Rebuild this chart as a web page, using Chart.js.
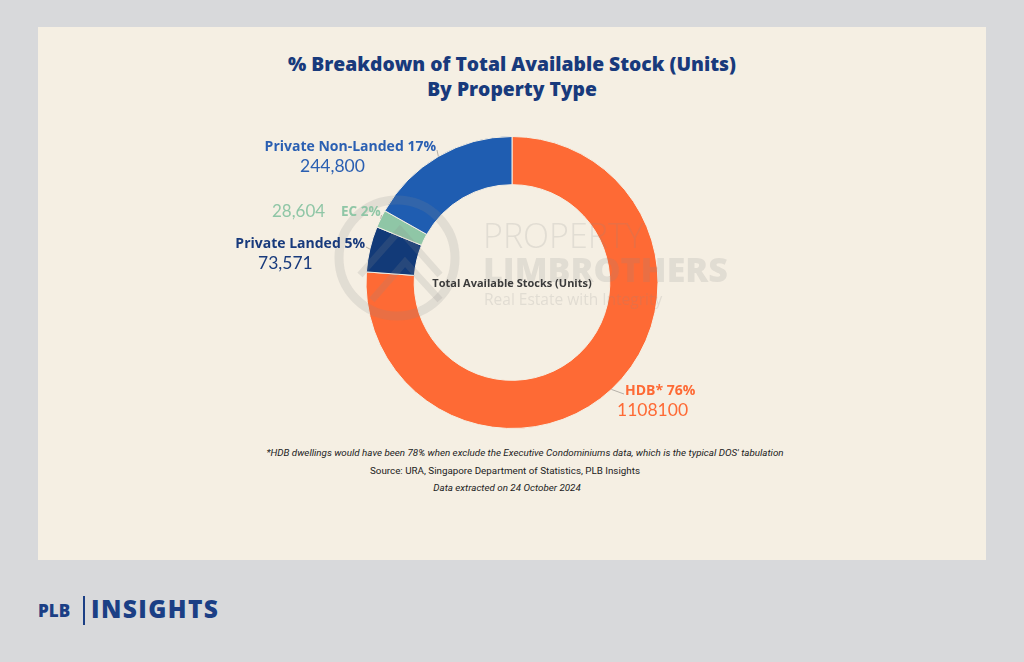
<!DOCTYPE html>
<html>
<head>
<meta charset="utf-8">
<script src="https://cdn.jsdelivr.net/npm/chart.js@4.4.1/dist/chart.umd.min.js"></script>
<style>
  html, body { margin: 0; padding: 0; }
  body { width: 1024px; height: 662px; background: #d8d9db; position: relative; overflow: hidden; font-family: "Open Sans", Lato, sans-serif; }
  #panel { position: absolute; left: 38px; top: 27px; width: 948px; height: 533px; background: #f5efe3; }
  #wrap { position: absolute; left: 0; top: 0; width: 1024px; height: 662px; }
  .title { position: absolute; left: 0; width: 1024px; text-align: center; color: #183a7c; font-weight: 800; font-size: 19.3px; }
  .note { position: absolute; left: 0; width: 1024px; text-align: center; font-family: Roboto, sans-serif; font-size: 9.8px; color: #222; }
  #logo { position: absolute; left: 38px; top: 596px; color: #1b3f85; font-weight: 800; height: 30px; }
  #logo .plb { position: absolute; left: 0; top: 3px; font-size: 17px; }
  #logo .bar { position: absolute; left: 45px; top: 0; width: 2px; height: 29px; background: #1b3f85; }
  #logo .ins { position: absolute; left: 53px; top: -4px; font-size: 24.5px; letter-spacing: 1.4px; }
</style>
</head>
<body>
<div id="panel"></div>
<div class="title" style="top:50px">% Breakdown of Total Available Stock (Units)</div>
<div class="title" style="top:75px">By Property Type</div>
<div class="note" style="top:447px;font-style:italic;left:13px">*HDB dwellings would have been 78% when exclude the Executive Condominiums data, which is the typical DOS' tabulation</div>
<div class="note" style="top:465px;left:-7px">Source: URA, Singapore Department of Statistics, PLB Insights</div>
<div class="note" style="top:482px;font-style:italic;left:-5px">Data extracted on 24 October 2024</div>
<div id="logo"><span class="plb">PLB</span><span class="bar"></span><span class="ins">INSIGHTS</span></div>
<div id="wrap"><canvas id="chart" width="1024" height="662"></canvas></div>
<script>
const categories = ['HDB*', 'Private Landed', 'EC', 'Private Non-Landed'];
const units = [1108100, 73571, 28604, 244800];
const percentLabels = ['76%', '5%', '2%', '17%'];
const valueLabels = ['1108100', '73,571', '28,604', '244,800'];
const colors = ['#fe6a35', '#123a78', '#8fc6a6', '#1f5db1'];
const labelColors = ['#fe6a35', '#183a7c', '#8fc6a6', '#2a5fb2'];

// label text anchors (x, y of the bold line; number line sits below)
const labelSpots = [
  { x: 625, y: 391, align: 'left', numX: 617 },
  { x: 365, y: 244, align: 'right', numX: 258 },
  { x: 341, y: 212, align: 'ec', numX: 272 },
  { x: 436, y: 147, align: 'right', numX: 300 }
];

const backdrop = {
  id: 'backdrop',
  afterDraw(chart) {
    const ctx = chart.ctx;
    const meta = chart.getDatasetMeta(0);
    const arc0 = meta.data[0];
    const cx = arc0.x, cy = arc0.y;

    // watermark
    ctx.save();
    ctx.globalAlpha = 0.18;
    ctx.strokeStyle = '#8a8a8a';
    ctx.fillStyle = '#8a8a8a';
    ctx.lineWidth = 9;
    ctx.beginPath();
    ctx.arc(397, 258, 58, 0, Math.PI * 2);
    ctx.stroke();
    ctx.lineWidth = 7;
    ctx.beginPath();
    ctx.moveTo(360, 275); ctx.lineTo(400, 230); ctx.lineTo(440, 275);
    ctx.moveTo(372, 300); ctx.lineTo(405, 262); ctx.lineTo(440, 300);
    ctx.stroke();
    ctx.textAlign = 'left';
    ctx.textBaseline = 'middle';
    ctx.font = '300 34px "Open Sans"';
    ctx.fillText('PROPERTY', 483, 238);
    ctx.font = '800 34px "Open Sans"';
    ctx.fillText('LIMBROTHERS', 483, 272);
    ctx.font = '400 15.5px "Open Sans"';
    ctx.fillText('Real Estate with Integrity', 484, 301);
    ctx.restore();

    // centre label
    ctx.save();
    ctx.fillStyle = '#3b3b3b';
    ctx.font = '700 11px "Open Sans"';
    ctx.textAlign = 'center';
    ctx.textBaseline = 'middle';
    ctx.fillText('Total Available Stocks (Units)', cx, cy + 1);
    ctx.restore();

    // outside labels with leader lines
    meta.data.forEach((arc, i) => {
      const mid = (arc.startAngle + arc.endAngle) / 2;
      const r = arc.outerRadius;
      const px = cx + Math.cos(mid) * r;
      const py = cy + Math.sin(mid) * r;
      const s = labelSpots[i];
      const bold = categories[i] + ' ' + percentLabels[i];
      ctx.save();
      ctx.textBaseline = 'middle';
      ctx.fillStyle = labelColors[i];
      ctx.strokeStyle = '#b5b0a8';
      ctx.lineWidth = 1;
      let endX;
      if (s.align === 'ec') {
        ctx.font = '400 17px Lato';
        ctx.textAlign = 'left';
        ctx.fillText(valueLabels[i], s.numX, s.y);
        ctx.font = '700 13.5px "Open Sans"';
        ctx.fillText(bold, s.x, s.y);
        endX = s.x + ctx.measureText(bold).width + 1;
      } else {
        ctx.font = '700 14px "Open Sans"';
        ctx.textAlign = s.align;
        ctx.fillText(bold, s.x, s.y);
        ctx.font = '400 17.5px Lato';
        ctx.textAlign = 'left';
        ctx.fillText(valueLabels[i], s.numX, s.y + 19);
        endX = s.align === 'left' ? s.x - 1 : s.x + 1;
      }
      ctx.beginPath();
      ctx.moveTo(px, py);
      ctx.lineTo(endX, s.y + 3);
      ctx.stroke();
      ctx.restore();
    });
  }
};

new Chart(document.getElementById('chart'), {
  type: 'doughnut',
  data: {
    labels: categories,
    datasets: [{
      data: units,
      backgroundColor: colors,
      borderColor: '#f5efe3',
      borderWidth: 1
    }]
  },
  options: {
    responsive: false,
    animation: false,
    cutout: '67%',
    layout: { padding: { top: 136, bottom: 233, left: 0, right: 0 } },
    plugins: {
      legend: { display: false },
      tooltip: { enabled: false },
      title: { display: false }
    }
  },
  plugins: [backdrop]
});
</script>
</body>
</html>
